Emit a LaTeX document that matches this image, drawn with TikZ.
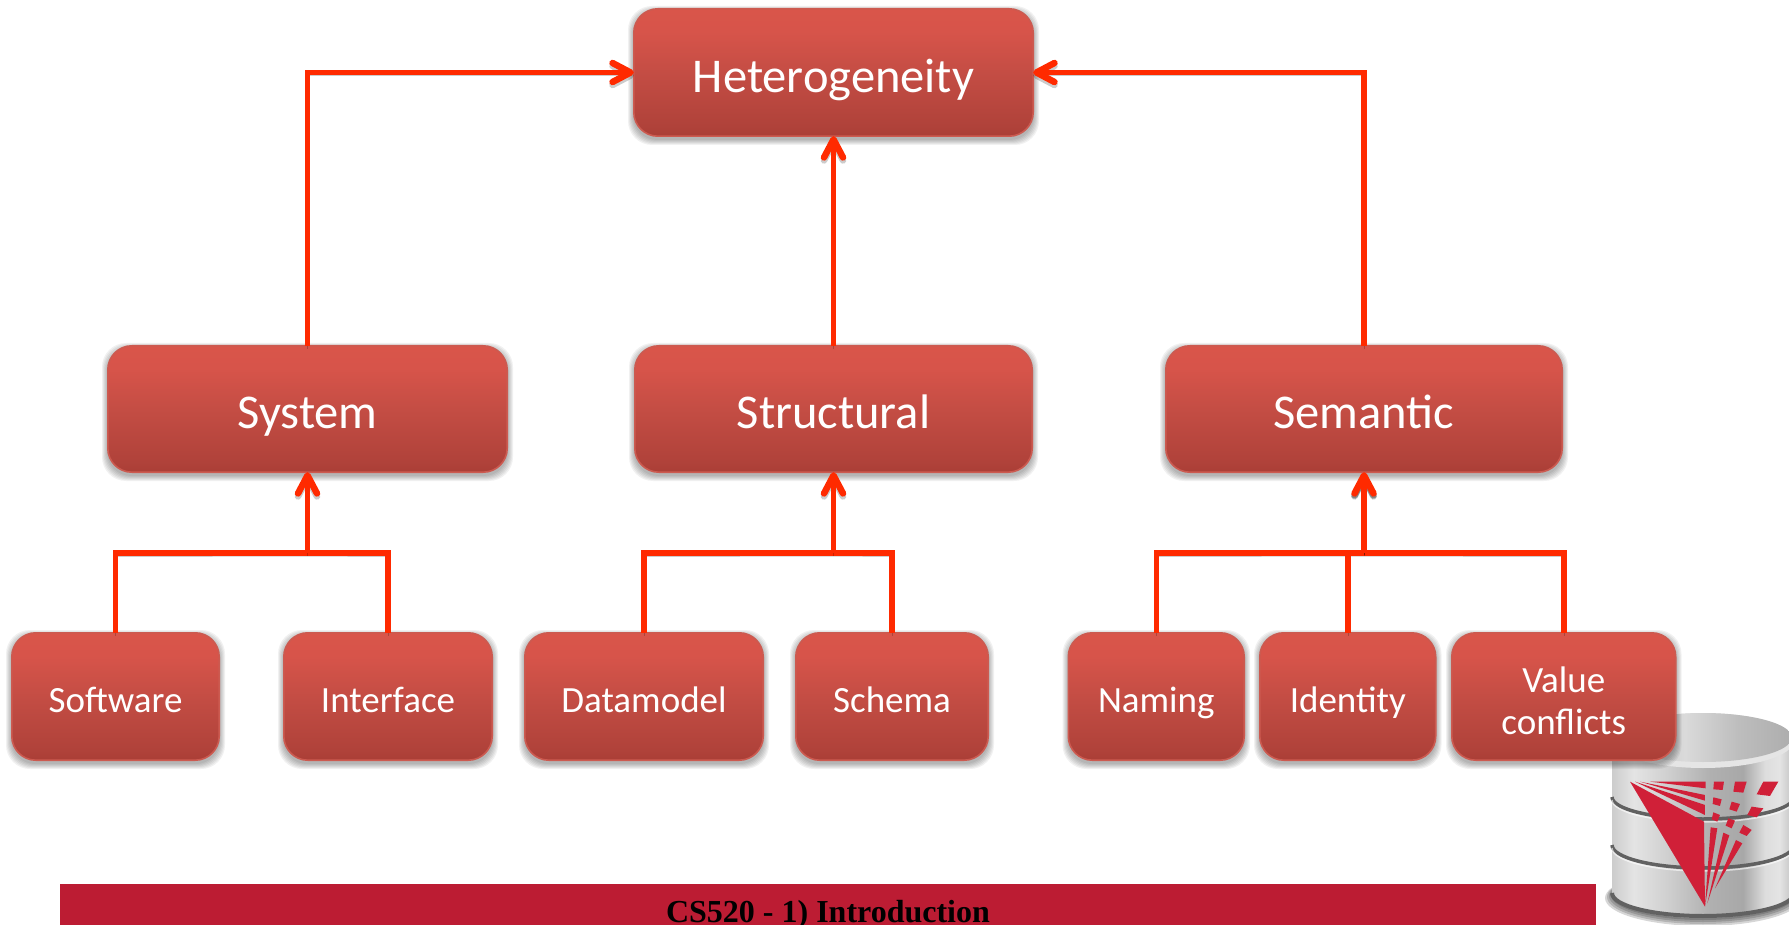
\documentclass[tikz,border=0pt]{standalone}
\usepackage{fontspec}
\setmainfont{Carlito}
\newfontfamily\barfont{Liberation Serif}
\usetikzlibrary{arrows.meta}
\definecolor{linkred}{HTML}{FF2A00}
\definecolor{barred}{HTML}{BC1C33}
\definecolor{logored}{HTML}{D02038}
\definecolor{boxedge}{HTML}{CC5A50}
\definecolor{b1}{HTML}{AA3E36}
\definecolor{b2}{HTML}{B0423A}
\definecolor{b3}{HTML}{C44D44}
\definecolor{b4}{HTML}{D7544A}
\definecolor{b5}{HTML}{D9554A}
\definecolor{c1}{HTML}{CCCCCC}
\definecolor{c2}{HTML}{E4E4E4}
\definecolor{c3}{HTML}{D0D0D0}
\definecolor{c4}{HTML}{B0B0B0}
\definecolor{c5}{HTML}{A8A8A8}
\definecolor{c6}{HTML}{DDDDDD}
\definecolor{c7}{HTML}{C0C0C0}
\definecolor{d1}{HTML}{DADADA}
\definecolor{d2}{HTML}{BDBDBD}
\definecolor{d3}{HTML}{ADADAD}
\pgfdeclareverticalshading{boxshade}{100bp}{
  color(0bp)=(b1);
  color(25bp)=(b1);
  color(29bp)=(b2);
  color(50bp)=(b3);
  color(66bp)=(b4);
  color(75bp)=(b5);
  color(100bp)=(b5)}
\pgfdeclarehorizontalshading{cylbody}{100bp}{
  color(0bp)=(c1);
  color(25bp)=(c1);
  color(31bp)=(c2);
  color(40bp)=(c3);
  color(52bp)=(c4);
  color(61bp)=(c5);
  color(67bp)=(c6);
  color(71bp)=(c2);
  color(75bp)=(c7);
  color(100bp)=(c7)}
\pgfdeclarehorizontalshading{cyltop}{100bp}{
  color(0bp)=(d2);
  color(25bp)=(d2);
  color(45bp)=(d1);
  color(60bp)=(d2);
  color(75bp)=(d3);
  color(100bp)=(d3)}
\tikzset{
  rbox/.style={shape=rectangle,rounded corners=24pt,shading=boxshade,draw=boxedge,line width=1.6pt,
    text=white,align=center,inner sep=0pt,outer sep=0pt},
  bigt/.style={font=\fontsize{48.5}{50}\selectfont,text height=39pt,text depth=0pt},
  smallt/.style={font=\fontsize{37}{42}\selectfont,text height=31pt,text depth=0pt},
  wire/.style={draw=linkred,line width=5.5pt,line join=miter,
    preaction={draw=black,draw opacity=.2,transform canvas={yshift=-3pt}}},
  arrowwire/.style={wire,-{Straight Barb[length=18pt,width=19pt,round,line width=6.5pt]}},
  darkwire/.style={arrowwire,preaction={draw=black,draw opacity=.35,transform canvas={yshift=-2pt}}},
  groove/.style={draw=black!62,line width=3.5pt},
  logo/.style={fill=logored,draw=none}
}
\newcommand{\boxshadow}[4]{%
  \foreach \k in {0,1,2,3,4,5}{%
    \fill[black,fill opacity=.055,rounded corners=24pt]
      ({#1-\k},{#2+3-\k}) rectangle ({#3+\k},{#4+3+\k});}}
\newcommand{\mkbox}[7]{% name, x1,y1,x2,y2,style,text
  \boxshadow{#2}{#3}{#4}{#5}
  \node[rbox,#6,minimum width={(#4-#2-1.6)*1pt},minimum height={(#5-#3-1.6)*1pt}] (#1) at ({(#2+#4)/2},{(#3+#5)/2}) {#7};}
\begin{document}
\begin{tikzpicture}[x=1pt,y=-1pt]
\useasboundingbox (0,0) rectangle (1789,925);
\clip (0,0) rectangle (1789,925);

% footer bar
\fill[barred] (60,884) rectangle (1596,925);
\node[inner sep=0pt,anchor=base,font=\barfont\bfseries\fontsize{32}{34}\selectfont,text=black] (footer) at (828,922.5) {CS520 - 1) Introduction};

% database cylinder
\begin{scope}
  \clip (1590,880) rectangle (1795,925);
  \foreach \k in {0,2,4,6,8}{%
    \fill[black,fill opacity=.16] (1703,{894+\k/2}) ellipse[x radius={90+\k},y radius={24+\k/2}];}
\end{scope}
\shade[shading=cylbody] (1612,740) -- (1612,893) arc[start angle=180,end angle=0,x radius=91,y radius=25] -- (1794,740) -- cycle;
\draw[draw=black!62,line width=4pt] (1612,893) arc[start angle=180,end angle=0,x radius=91,y radius=23];
\draw[groove] (1612,797) arc[start angle=180,end angle=0,x radius=91,y radius=22];
\draw[groove] (1612,845) arc[start angle=180,end angle=0,x radius=91,y radius=23];
\draw[white,line width=1.5pt,opacity=.6] (1612,800) arc[start angle=180,end angle=0,x radius=91,y radius=22];
\draw[white,line width=1.5pt,opacity=.6] (1612,848) arc[start angle=180,end angle=0,x radius=91,y radius=23];
\fill[white!90!black] (1703,740.5) ellipse[x radius=91,y radius=27.5];
\shade[shading=cyltop] (1703,737.5) ellipse[x radius=89,y radius=24.5];
\begin{scope}[shift={(1500,680)},x=.3333pt,y=-.3333pt]
  \fill[logo] (390,305) -- (612,425) -- (615,680) -- cycle;
  \fill[logo] (420,305) -- (615,345) -- (615,362) -- cycle;
  \fill[logo] (405,305) -- (615,375) -- (615,405) -- cycle;
  \fill[logo] (450,305) -- (617,305) -- (617,325) -- cycle;
  \fill[logo] (615,680) -- (632,442) -- (652,445) -- cycle;
  \fill[logo] (622,670) -- (670,458) -- (688,466) -- cycle;
  \fill[logo] (645,625) -- (708,480) -- (727,490) -- cycle;
  \fill[logo] (642,305) -- (672,305) -- (668,330) -- (640,328) -- cycle;
  \fill[logo] (705,305) -- (740,305) -- (730,338) -- (700,335) -- cycle;
  \fill[logo] (790,305) -- (835,305) -- (810,348) -- (770,343) -- cycle;
  \fill[logo] (640,352) -- (665,358) -- (660,378) -- (638,372) -- cycle;
  \fill[logo] (695,365) -- (720,372) -- (710,395) -- (688,388) -- cycle;
  \fill[logo] (755,380) -- (790,385) -- (770,412) -- (742,405) -- cycle;
  \fill[logo] (640,397) -- (660,405) -- (652,425) -- (635,418) -- cycle;
  \fill[logo] (685,415) -- (705,422) -- (695,445) -- (677,437) -- cycle;
  \fill[logo] (730,435) -- (755,450) -- (740,468) -- (718,458) -- cycle;
\end{scope}

% boxes
\mkbox{het}{633}{8}{1034}{137}{bigt,text height=41pt}{Heterogeneity}
\mkbox{sys}{107}{345}{508}{473}{bigt}{System}
\mkbox{str}{634}{345}{1033}{473}{bigt}{Structural}
\mkbox{sem}{1165}{345}{1563}{473}{bigt}{Semantic}
\mkbox{sw}{11}{632}{220}{761}{smallt}{Software}
\mkbox{ifc}{283}{632}{493}{761}{smallt}{Interface}
\mkbox{dm}{524}{632}{764}{761}{smallt}{Datamodel}
\mkbox{sch}{795}{632}{989}{761}{smallt}{Schema}
\mkbox{nam}{1067.5}{632}{1245}{761}{smallt}{Naming}
\mkbox{idn}{1259}{632}{1436.5}{761}{smallt}{Identity}
\mkbox{val}{1451}{632}{1676.5}{761}{smallt,text height=75pt}{Value\\conflicts}

% connectors
\coordinate (bus) at (0,553);
\coordinate (sysj) at (sys.south |- bus);
\coordinate (strj) at (str.south |- bus);
\coordinate (semj) at (sem.south |- bus);
\path[arrowwire] (sys.north) |- (het.west);
\path[arrowwire] (str.north) -- (het.south);
\path[arrowwire] (sem.north) |- (het.east);
\path[wire] (sw.north) |- (sysj) -| (ifc.north);
\path[wire] (dm.north) |- (strj) -| (sch.north);
\path[wire] (nam.north) |- (semj) -| (val.north);
\path[wire] (idn.north) -- (idn.north |- bus);
\path[arrowwire] (sysj) -- (sys.south);
\path[arrowwire] (strj) -- (str.south);
\path[darkwire] (semj) -- (sem.south);
\end{tikzpicture}
\end{document}
